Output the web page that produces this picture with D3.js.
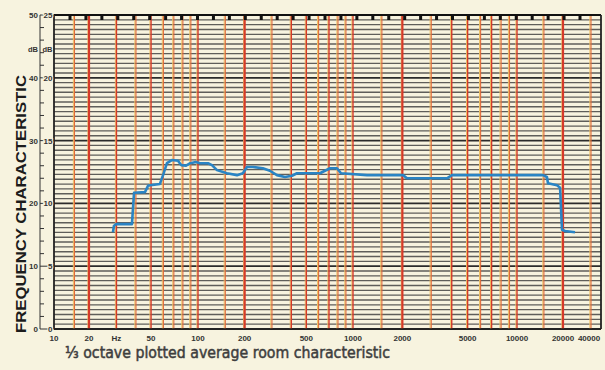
<!DOCTYPE html>
<html>
<head>
<meta charset="utf-8">
<script src="https://cdn.jsdelivr.net/npm/d3@7"></script>
<style>
  body { margin: 0; background: #f7f3df; }
  svg { display: block; }
</style>
</head>
<body>
<svg id="chart" width="605" height="370"></svg>
<script>
// vertical lines printed on the chart paper (Hz)
const gridFreqs = [15, 20, 30, 40, 50, 60, 70, 80, 90, 100, 150, 200, 300, 400, 500, 600, 700, 800, 900,
  1000, 1500, 2000, 3000, 4000, 5000, 6000, 7000, 8000, 9000, 10000, 15000, 20000, 30000];
const redFreqs = [20, 30, 50, 100, 200, 400, 500, 700, 1000, 2000, 4000, 5000, 7000, 10000, 20000];
const heavyFreqs = [20, 200, 2000, 20000];

const xTickValues = [10, 20, 30, 50, 100, 200, 500, 1000, 2000, 5000, 10000, 20000, 40000];
const xTickLabels = ["10", "20", "Hz", "50", "100", "200", "500", "1000", "2000", "5000", "10000", "20000", "40000"];

const yTickValues = [0, 10, 20, 30, 40, 50];
const yLeftLabels = ["0", "10", "20", "30", "40", "50"];
const yRightLabels = ["0", "5", "10", "15", "20", "25"];

// traced curve
const curveFreq = [28.5, 28.9, 29.8, 37.7, 38.9, 45.7, 47.8, 49.4, 57, 59.7, 63.2, 68, 74.4, 78, 83.8, 89.3,
  96.9, 103, 116, 123, 132.6, 153.8, 178.5, 195, 207, 226, 262, 291, 323, 364, 404, 435, 528, 612, 711, 788,
  837, 1217, 2018, 2134, 3741, 4015, 14800, 15700, 15950, 18270, 19140, 19700, 20590, 23800];
const curveLevel = [15.4, 16.4, 16.7, 16.7, 21.7, 21.8, 22.8, 22.9, 23.1, 24.5, 26.4, 26.9, 26.8, 26.1, 26.0, 26.4,
  26.6, 26.4, 26.4, 26.1, 25.3, 24.8, 24.5, 24.8, 25.8, 25.8, 25.6, 25.2, 24.5, 24.2, 24.4, 24.8, 24.8, 24.8, 25.6, 25.6,
  24.8, 24.5, 24.5, 24.0, 24.0, 24.5, 24.5, 24.2, 23.2, 22.9, 22.5, 15.8, 15.6, 15.4];

const svg = d3.select("#chart");
const pLeft = 54, pRight = 601, pTop = 15, pBottom = 329;
const paper = "#f7f3df";

// the scanned paper is not perfectly logarithmic, so the scale is piecewise
const x = d3.scaleLog()
  .domain([10, 20, 100, 1000, 10000, 20000, 30000])
  .range([pLeft, 89, 198, 353, 517, 563, 591]);
const y = d3.scaleLinear().domain([0, 50]).range([pBottom, pTop]);

svg.append("rect").attr("width", 605).attr("height", 370).attr("fill", paper);

// horizontal grid of the paper, 13 rulings per 10 dB
svg.append("g")
  .selectAll("line")
  .data(d3.range(0, 66))
  .join("line")
  .attr("x1", pLeft).attr("x2", pRight)
  .attr("y1", d => y(d * 10 / 13)).attr("y2", d => y(d * 10 / 13))
  .attr("stroke", d => d % 13 === 0 ? "#2b2b2b" : "#5f5e5a")
  .attr("stroke-width", d => d % 13 === 0 ? 1.8 : 1.35);

// vertical grid: yellow fringe + red / orange line
const vg = svg.append("g");
vg.selectAll("line.fringe")
  .data(gridFreqs)
  .join("line")
  .attr("class", "fringe")
  .attr("x1", d => x(d) - 1.1).attr("x2", d => x(d) - 1.1)
  .attr("y1", pTop).attr("y2", pBottom)
  .attr("stroke", "#eec064")
  .attr("stroke-width", 1);
vg.selectAll("line.main")
  .data(gridFreqs)
  .join("line")
  .attr("class", "main")
  .attr("x1", d => x(d)).attr("x2", d => x(d))
  .attr("y1", pTop).attr("y2", pBottom)
  .attr("stroke", d => redFreqs.includes(d) ? "#d63a2a" : "#e26a3a")
  .attr("stroke-width", d => heavyFreqs.includes(d) ? 2.2 : (redFreqs.includes(d) ? 1.4 : 1.1));

// paper border
svg.append("line").attr("x1", pLeft).attr("x2", pRight).attr("y1", pTop).attr("y2", pTop)
  .attr("stroke", "#111").attr("stroke-width", 2.2);
svg.append("line").attr("x1", pLeft).attr("x2", pRight).attr("y1", pBottom).attr("y2", pBottom)
  .attr("stroke", "#222").attr("stroke-width", 1.6);
svg.append("line").attr("x1", pLeft).attr("x2", pLeft).attr("y1", pTop).attr("y2", pBottom)
  .attr("stroke", "#222").attr("stroke-width", 1.8);
svg.append("line").attr("x1", pRight).attr("x2", pRight).attr("y1", pTop).attr("y2", pBottom)
  .attr("stroke", "#222").attr("stroke-width", 1.8);

// timing marks under the top edge
const marks = d3.scaleLinear().domain([0, 32]).range([70, 580]);
svg.append("g")
  .selectAll("rect")
  .data(d3.range(0, 33))
  .join("rect")
  .attr("x", d => marks(d) - 1.5).attr("y", pTop - 1)
  .attr("width", 3).attr("height", 6)
  .attr("fill", "#111");

// curve
const line = d3.line()
  .x((d, i) => x(curveFreq[i]))
  .y(d => y(d));
svg.append("path")
  .datum(curveLevel)
  .attr("d", line)
  .attr("fill", "none")
  .attr("stroke", "#2a84c4")
  .attr("stroke-width", 2.6)
  .attr("stroke-linejoin", "round");

// left dB scale
const ax = 40;
svg.append("line").attr("x1", ax).attr("x2", ax).attr("y1", pTop).attr("y2", pBottom)
  .attr("stroke", "#333").attr("stroke-width", 1);
svg.append("g")
  .selectAll("line")
  .data(d3.range(0, 51, 2))
  .join("line")
  .attr("x1", ax).attr("x2", d => d % 10 === 0 ? pLeft : ax + 4)
  .attr("y1", d => y(d)).attr("y2", d => y(d))
  .attr("stroke", "#333").attr("stroke-width", 1);

const labFont = "Liberation Sans, Arial, sans-serif";
svg.append("g")
  .selectAll("text")
  .data(yTickValues)
  .join("text")
  .attr("x", ax - 2).attr("y", d => y(d) + 3)
  .attr("text-anchor", "end")
  .attr("font-family", labFont).attr("font-size", 8).attr("font-weight", "bold")
  .attr("fill", "#333")
  .text((d, i) => yLeftLabels[i]);
svg.append("g")
  .selectAll("text")
  .data(yTickValues)
  .join("text")
  .attr("x", pLeft - 1.5).attr("y", d => y(d) + 3)
  .attr("text-anchor", "end")
  .attr("font-family", labFont).attr("font-size", 8).attr("font-weight", "bold")
  .attr("fill", "#333")
  .attr("paint-order", "stroke").attr("stroke", paper).attr("stroke-width", 2)
  .text((d, i) => yRightLabels[i]);
svg.append("text").attr("x", ax - 2).attr("y", y(44.6) + 3).attr("text-anchor", "end")
  .attr("font-family", labFont).attr("font-size", 7.5).attr("font-weight", "bold").attr("fill", "#333").text("dB");
svg.append("text").attr("x", pLeft - 1.5).attr("y", y(44.6) + 3).attr("text-anchor", "end")
  .attr("font-family", labFont).attr("font-size", 7.5).attr("font-weight", "bold").attr("fill", "#333").text("dB");

// frequency labels
svg.append("g")
  .selectAll("text")
  .data(xTickValues)
  .join("text")
  .attr("x", d => Math.min(x(d), pRight - 12))
  .attr("y", pBottom + 12)
  .attr("text-anchor", "middle")
  .attr("font-family", labFont).attr("font-size", 8).attr("font-weight", "bold")
  .attr("fill", "#333")
  .text((d, i) => xTickLabels[i]);

// titles
svg.append("text")
  .attr("transform", "translate(26,204) rotate(-90)")
  .attr("text-anchor", "middle")
  .attr("font-family", labFont).attr("font-size", 15).attr("font-weight", "bold")
  .attr("fill", "#1c1c1c")
  .attr("textLength", 258).attr("lengthAdjust", "spacingAndGlyphs")
  .text("FREQUENCY CHARACTERISTIC");

svg.append("text")
  .attr("x", 65).attr("y", 358)
  .attr("font-family", "DejaVu Sans, sans-serif").attr("font-size", 15.5)
  .attr("fill", "#3e3e3e")
  .attr("stroke", "#3e3e3e").attr("stroke-width", 0.5)
  .attr("textLength", 325).attr("lengthAdjust", "spacingAndGlyphs")
  .text("⅓ octave plotted average room characteristic");
</script>
</body>
</html>
